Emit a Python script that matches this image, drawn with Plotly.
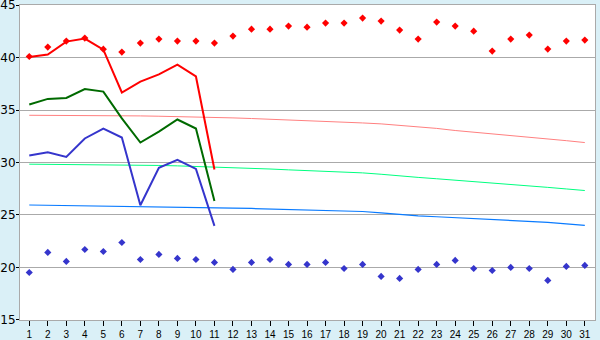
import plotly.graph_objects as go

days = list(range(1, 32))
tick_labels = [str(d) for d in days]

# record highs / lows (diamonds)
rec_max = [40.1, 41.0, 41.57, 41.86, 40.8, 40.52, 41.38, 41.76, 41.57, 41.57, 41.38,
           42.05, 42.71, 42.71, 43.0, 42.9, 43.29, 43.29, 43.76, 43.48, 42.62,
           41.76, 43.38, 43.0, 42.52, 40.62, 41.76, 42.14, 40.81, 41.57, 41.67]
rec_min = [19.52, 21.43, 20.57, 21.71, 21.52, 22.38, 20.76, 21.24, 20.86, 20.76, 20.48,
           19.81, 20.48, 20.76, 20.29, 20.29, 20.48, 19.9, 20.29, 19.14, 18.95,
           19.81, 20.29, 20.67, 19.9, 19.71, 20.0, 19.9, 18.76, 20.1, 20.19]

# observed values (days 1-11)
obs_days = list(range(1, 12))
obs_max = [40.05, 40.29, 41.52, 41.81, 40.76, 36.67, 37.71, 38.4, 39.33, 38.2, 29.33]
obs_mean = [35.52, 36.06, 36.15, 37.0, 36.76, 34.2, 31.9, 32.95, 34.1, 33.24, 26.34]
obs_min = [30.67, 30.98, 30.53, 32.29, 33.24, 32.38, 25.93, 29.49, 30.25, 29.39, 23.96]

# normals
norm_max = [34.50, 34.50, 34.49, 34.48, 34.47, 34.46, 34.44, 34.41, 34.38, 34.35, 34.30,
            34.25, 34.19, 34.13, 34.07, 34.00, 33.93, 33.85, 33.77, 33.68, 33.55,
            33.40, 33.25, 33.05, 32.90, 32.72, 32.55, 32.40, 32.25, 32.08, 31.90]
norm_mean = [29.84, 29.83, 29.82, 29.81, 29.80, 29.78, 29.76, 29.72, 29.68, 29.63, 29.57,
             29.51, 29.45, 29.38, 29.30, 29.23, 29.17, 29.10, 29.01, 28.88, 28.70,
             28.58, 28.45, 28.32, 28.20, 28.08, 27.95, 27.80, 27.63, 27.48, 27.33]
norm_min = [25.95, 25.93, 25.91, 25.88, 25.86, 25.83, 25.81, 25.78, 25.75, 25.72, 25.69,
            25.66, 25.62, 25.58, 25.53, 25.49, 25.45, 25.40, 25.33, 25.20, 25.04,
            24.92, 24.83, 24.75, 24.68, 24.60, 24.50, 24.40, 24.30, 24.15, 24.00]

fig = go.Figure()
fig.add_trace(go.Scatter(x=days, y=norm_max, mode="lines", line=dict(color="#FF8080", width=1)))
fig.add_trace(go.Scatter(x=days, y=norm_mean, mode="lines", line=dict(color="#00FF80", width=1)))
fig.add_trace(go.Scatter(x=days, y=norm_min, mode="lines", line=dict(color="#0A7BFF", width=1.2)))
fig.add_trace(go.Scatter(x=obs_days, y=obs_max, mode="lines", line=dict(color="#FF0000", width=2)))
fig.add_trace(go.Scatter(x=obs_days, y=obs_mean, mode="lines", line=dict(color="#006A00", width=2)))
fig.add_trace(go.Scatter(x=obs_days, y=obs_min, mode="lines", line=dict(color="#3535CC", width=2)))
fig.add_trace(go.Scatter(x=days, y=rec_max, mode="markers",
                         marker=dict(symbol="diamond", size=5.5, color="#FF0000")))
fig.add_trace(go.Scatter(x=days, y=rec_min, mode="markers",
                         marker=dict(symbol="diamond", size=5.5, color="#3535CC")))

fig.update_layout(
    width=600, height=340,
    margin=dict(l=20, r=5, t=5, b=20),
    paper_bgcolor="#DAF0F7",
    plot_bgcolor="#FFFFFF",
    showlegend=False,
    font=dict(family="DejaVu Sans", color="#000000"),
)
fig.update_xaxes(
    range=[0.5, 31.55], tickmode="array", tickvals=days, ticktext=tick_labels,
    showgrid=False, zeroline=False, automargin=False,
    showline=True, linecolor="#AAAAAA", linewidth=1, mirror=True,
    ticks="outside", ticklen=5, tickcolor="#000000", tickwidth=1,
    ticklabelstandoff=0,
    tickfont=dict(family="Liberation Sans", size=10, color="#000000"),
)
fig.update_yaxes(
    range=[14.99, 45.01], tickvals=[15, 20, 25, 30, 35, 40, 45],
    showgrid=True, gridcolor="#AAAAAA", gridwidth=1, zeroline=False, automargin=False,
    showline=True, linecolor="#AAAAAA", linewidth=1, mirror=True,
    ticks="outside", ticklen=3, tickcolor="#000000", tickwidth=1,
    ticklabeloverflow="allow", ticklabelstandoff=-2,
    tickfont=dict(family="DejaVu Sans", size=12, color="#000000"),
)

fig.write_html("out.html")
